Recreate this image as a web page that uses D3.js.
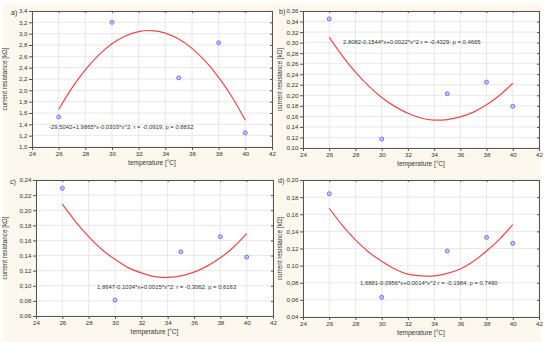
<!DOCTYPE html>
<html>
<head>
<meta charset="utf-8">
<script src="https://cdn.jsdelivr.net/npm/d3@7"></script>
<style>
  body { margin: 0; background: #fff; }
  text { font-family: "Liberation Sans", Arial, sans-serif; fill: #333; }
</style>
</head>
<body>
<div id="chart"></div>
<script>
// measured points (same temperatures for all four panels)
var temperature = [26, 30, 35, 38, 40];
var resistanceA = [1.53, 3.20, 2.22, 2.84, 1.25];
var resistanceB = [0.345, 0.117, 0.203, 0.225, 0.179];
var resistanceC = [0.229, 0.081, 0.145, 0.165, 0.138];
var resistanceD = [0.184, 0.063, 0.117, 0.133, 0.126];

// fitted curve
var fitTemp = [26, 27, 28, 29, 30, 31, 32, 33, 34, 35, 36, 37, 38, 39, 40];
var fitA = [1.662, 2.043, 2.363, 2.622, 2.821, 2.959, 3.037, 3.054, 3.010, 2.906, 2.741, 2.515, 2.229, 1.883, 1.475];
var fitB = [0.310, 0.275, 0.244, 0.218, 0.196, 0.179, 0.166, 0.157, 0.153, 0.154, 0.159, 0.168, 0.182, 0.200, 0.223];
var fitC = [0.208, 0.185, 0.165, 0.148, 0.135, 0.124, 0.117, 0.112, 0.111, 0.113, 0.118, 0.126, 0.137, 0.151, 0.169];
var fitD = [0.167, 0.147, 0.130, 0.116, 0.105, 0.096, 0.090, 0.088, 0.088, 0.091, 0.096, 0.105, 0.117, 0.131, 0.148];

var xDomain = [24, 42];
var yDomains = [[1.0, 3.4], [0.10, 0.36], [0.06, 0.24], [0.04, 0.20]];
var panelLabels = ['a)', 'b)', 'c)', 'd)'];
var equations = [
  '-29,5042+1,9865*x-0,0303*x^2;  r = -0,0919; p = 0,8832',
  '2,8082-0,1544*x+0,0022*x^2 r = -0,4329; p = 0,4665',
  '1,8647-0,1034*x+0,0015*x^2;  r = -0,3062; p = 0,6163',
  '1,6881-0,0956*x+0,0014*x^2   r = -0,1984; p = 0,7490'
];

var width = 550;
var height = 342;

// plot boxes [left, right, top, bottom], equation anchor, letter position
var boxes = [
  {l: 32, r: 272, t: 11, b: 147, ex: 49, ey: 129, yStep: 0.2, fmt: '.1f', lx: 11, ly: 15, tx: 7},
  {l: 303, r: 539, t: 11, b: 148, ex: 343, ey: 44, yStep: 0.02, fmt: '.2f', lx: 279, ly: 14, tx: 282},
  {l: 36, r: 273, t: 180, b: 316, ex: 97, ey: 289, yStep: 0.02, fmt: '.2f', lx: 10, ly: 184, tx: 7},
  {l: 303, r: 539, t: 180, b: 317, ex: 360, ey: 285, yStep: 0.02, fmt: '.2f', lx: 278, ly: 183, tx: 282}
];

var points = [resistanceA, resistanceB, resistanceC, resistanceD];
var fits = [fitA, fitB, fitC, fitD];

var locale = d3.formatLocale({decimal: ',', thousands: '.', grouping: [3], currency: ['', '']});

var svg = d3.select('#chart')
            .append('svg')
            .attr('width', width)
            .attr('height', height);

// cream page background
svg.append('rect')
   .attr('x', 3).attr('y', 3)
   .attr('width', 538).attr('height', height - 3)
   .attr('fill', '#fcf8ee');

boxes.forEach(function (bx, i) {
  var x = d3.scaleLinear().domain(xDomain).range([bx.l, bx.r]);
  var y = d3.scaleLinear().domain(yDomains[i]).range([bx.b, bx.t]);
  var yTicks = d3.range(yDomains[i][0], yDomains[i][1] + bx.yStep / 2, bx.yStep);
  var xTicks = d3.range(xDomain[0], xDomain[1] + 1, 2);
  var g = svg.append('g');

  g.append('rect')
   .attr('x', bx.l).attr('y', bx.t)
   .attr('width', bx.r - bx.l).attr('height', bx.b - bx.t)
   .attr('fill', '#fff');

  // grid lines
  g.selectAll('.vgrid')
   .data(xTicks)
   .enter()
   .append('line')
     .attr('x1', function (d) { return x(d); })
     .attr('x2', function (d) { return x(d); })
     .attr('y1', bx.t).attr('y2', bx.b)
     .attr('stroke', '#e2e2e2')
     .attr('stroke-width', 0.8);
  g.selectAll('.hgrid')
   .data(yTicks)
   .enter()
   .append('line')
     .attr('y1', function (d) { return y(d); })
     .attr('y2', function (d) { return y(d); })
     .attr('x1', bx.l).attr('x2', bx.r)
     .attr('stroke', '#e2e2e2')
     .attr('stroke-width', 0.8);

  // axes
  var xAxis = d3.axisBottom(x).tickValues(xTicks).tickSizeInner(3).tickSizeOuter(0).tickPadding(2);
  var yAxis = d3.axisLeft(y).tickValues(yTicks).tickSizeInner(3).tickSizeOuter(0).tickPadding(1.5)
                .tickFormat(locale.format(bx.fmt));

  g.append('g')
   .attr('transform', 'translate(0,' + bx.b + ')')
   .call(xAxis);
  g.append('g')
   .attr('transform', 'translate(' + bx.l + ',0)')
   .call(yAxis);
  g.append('g')
   .attr('transform', 'translate(0,' + bx.t + ')')
   .call(d3.axisBottom(x).tickValues(xTicks).tickSize(2).tickSizeOuter(0).tickFormat(''));
  g.append('g')
   .attr('transform', 'translate(' + bx.r + ',0)')
   .call(d3.axisRight(y).tickValues(yTicks).tickSize(-2).tickSizeOuter(0).tickFormat(''));

  g.selectAll('.domain').attr('stroke', '#555');
  g.selectAll('.tick line').attr('stroke', '#555');
  g.selectAll('.tick text')
   .attr('font-size', 6.2)
   .attr('fill', '#444')
   .style('font-family', '"Liberation Sans", Arial, sans-serif');

  // fitted curve
  var line = d3.line()
               .x(function (d, j) { return x(fitTemp[j]); })
               .y(function (d) { return y(d); })
               .curve(d3.curveNatural);
  g.append('path')
   .datum(fits[i])
   .attr('d', line)
   .attr('fill', 'none')
   .attr('stroke', '#f04848')
   .attr('stroke-width', 1.2);

  // measured points
  g.selectAll('circle')
   .data(points[i])
   .enter()
   .append('circle')
     .attr('cx', function (d, j) { return x(temperature[j]); })
     .attr('cy', function (d) { return y(d); })
     .attr('r', 2)
     .attr('fill', '#c4c4ff')
     .attr('stroke', '#6a6aff')
     .attr('stroke-width', 0.9);

  // equation text
  g.append('text')
   .attr('x', bx.ex).attr('y', bx.ey)
   .attr('font-size', 5.9)
   .attr('fill', '#222')
   .text(equations[i]);

  // panel letter
  g.append('text')
   .attr('x', bx.lx).attr('y', bx.ly)
   .attr('font-size', 7)
   .attr('fill', '#222')
   .text(panelLabels[i]);

  // axis titles
  g.append('text')
   .attr('text-anchor', 'middle')
   .attr('x', (bx.l + bx.r) / 2)
   .attr('y', bx.b + 18)
   .attr('font-size', 6.5)
   .attr('fill', '#333')
   .text('temperature [°C]');
  g.append('text')
   .attr('text-anchor', 'middle')
   .attr('transform', 'translate(' + bx.tx + ',' + ((bx.t + bx.b) / 2) + ')rotate(-90)')
   .attr('font-size', 6.3)
   .attr('fill', '#333')
   .text('current resistance [kΩ]');
});
</script>
</body>
</html>
